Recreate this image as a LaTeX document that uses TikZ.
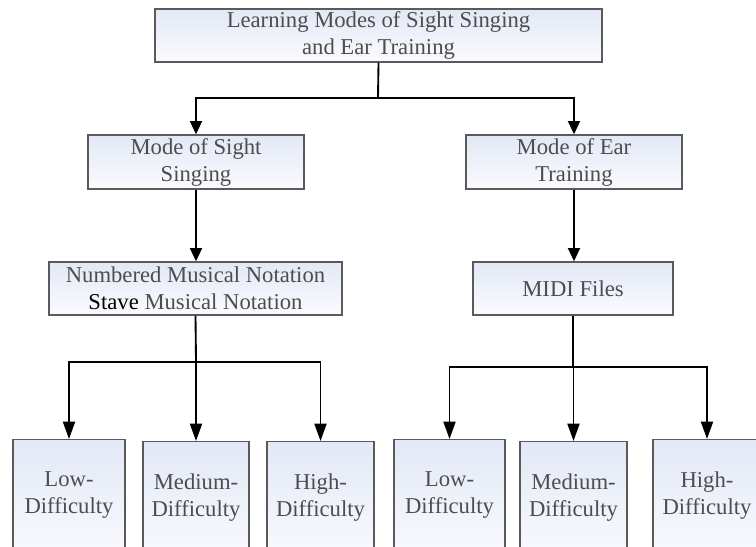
\documentclass[tikz,border=0pt]{standalone}
\usepackage{fontspec}
\setmainfont{Liberation Serif}
\usetikzlibrary{arrows.meta}
\definecolor{boxtop}{HTML}{E2E8F5}
\definecolor{boxbot}{HTML}{FAFBFE}
\definecolor{boxline}{HTML}{5A5A5A}
\definecolor{boxtext}{HTML}{4D4D4D}
\begin{document}
\begin{tikzpicture}[x=0.75pt,y=-0.75pt,
    box/.style={rectangle,draw=boxline,line width=1pt,top color=boxtop,bottom color=boxbot,text=boxtext,
        align=center,inner sep=0pt,font=\fontsize{17}{20.25}\selectfont},
    leaf/.style={box,anchor=north,minimum height=92pt,text depth=12pt},
    link/.style={line width=1.4pt,black},
    arr/.style={link,-{Triangle[length=10pt,width=9pt]}},
    longarr/.style={link,-{Triangle[length=13pt,width=9pt]}}]
    \useasboundingbox (0,0) rectangle (756,546);
    \clip (0,0) rectangle (756,546);

    % upper levels
    \node[box,minimum width=335.25pt,minimum height=39.75pt] (learn) at (378.5,35.5) {Learning Modes of Sight Singing\\and Ear Training};
    \node[box,minimum width=162pt,minimum height=40.5pt] (sight) at (196,162) {Mode of Sight\\Singing};
    \node[box,minimum width=162pt,minimum height=40.5pt] (ear) at (574,162) {Mode of Ear\\Training};
    \node[box,minimum width=219.75pt,minimum height=39.75pt] (notation) at (195.5,288.5) {Numbered Musical Notation\\\textcolor{black}{Stave} Musical Notation};
    \node[box,minimum width=150pt,minimum height=39.75pt] (midi) at (573,288.5) {MIDI Files};

    % difficulty levels
    \node[leaf,minimum width=84pt] (low1) at (69,439) {Low-\\Difficulty};
    \node[leaf,minimum width=79.5pt] (med1) at (196,441) {Medium-\\Difficulty};
    \node[leaf,minimum width=80.25pt] (high1) at (320.5,441) {High-\\Difficulty};
    \node[leaf,minimum width=83.25pt] (low2) at (449.5,439) {Low-\\Difficulty};
    \node[leaf,minimum width=80.25pt] (med2) at (573.5,441) {Medium-\\Difficulty};
    \node[leaf,minimum width=81pt] (high2) at (707,439) {High-\\Difficulty};

    \coordinate (split) at (378,98);
    \coordinate (lsplit) at (196,362);
    \coordinate (rsplit) at (573,367);

    \draw[link] (learn.south) -- (split);
    \draw[arr] (split) -| (sight);
    \draw[arr] (split) -| (ear);
    \draw[arr] (sight.south) -- (sight.south |- notation.north);
    \draw[arr] (ear.south) -- (ear.south |- midi.north);

    \draw[link] (notation.south) -- (lsplit);
    \foreach \n in {low1,med1,high1}
        \draw[longarr] (lsplit) -| (\n);
    \draw[link] (midi.south) -- (rsplit);
    \foreach \n in {low2,med2,high2}
        \draw[longarr] (rsplit) -| (\n);
\end{tikzpicture}
\end{document}
